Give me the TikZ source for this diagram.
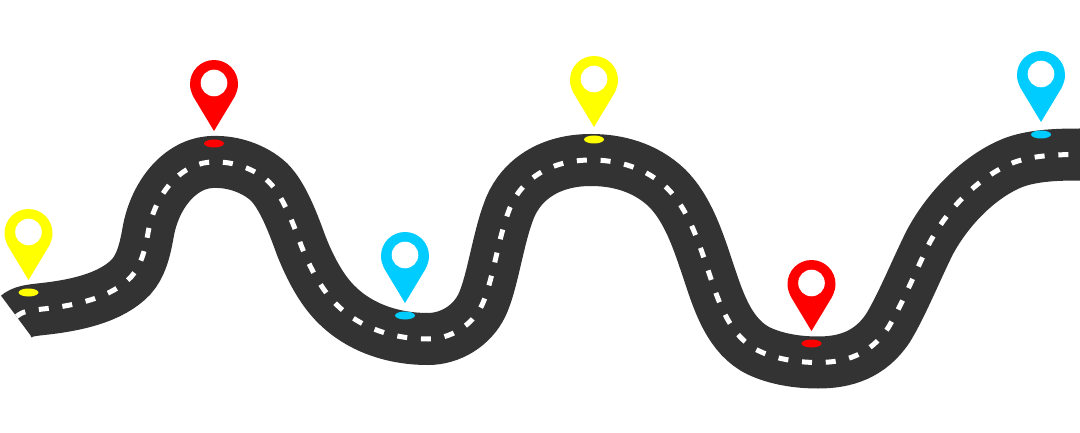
\documentclass[tikz,border=0pt]{standalone}
\usepackage{xcolor}
\usepackage{tikz}
\definecolor{roadgrey}{HTML}{333333}
\definecolor{pinblue}{HTML}{00CCFF}
\definecolor{pinred}{HTML}{FF0000}
\definecolor{pinyellow}{HTML}{FFFF00}
\tikzset{
  road/.style={draw=roadgrey,line width=52pt},
  roadline/.style={draw=white,line width=5pt,dash pattern=on 10pt off 13.77pt},
  mappin/.pic={
    \fill[pic actions] (0,0) -- (-20.5,-34) .. controls (-23,-39) and (-24,-43) .. (-24,-47)
      arc[start angle=180,end angle=360,radius=24]
      .. controls (24,-43) and (23,-39) .. (20.5,-34) -- cycle;
    \fill[white] (0,-48) circle[radius=13.3];
  }
}
\begin{document}
\begin{tikzpicture}[x=1pt,y=-1pt]
  \useasboundingbox (0,0) rectangle (1080,433);

  % road with its centre line
  \draw[road,postaction={roadline}] (16.5,316.5)
      .. controls (23,311) and (30,310.5) .. (43,309)
      .. controls (75,305.5) and (111,298) .. (131,277)
      .. controls (141,266) and (145,250) .. (148,233)
      .. controls (155,192) and (183,161) .. (215,162)
      .. controls (232,161.5) and (254,168) .. (269,182)
      .. controls (282,195) and (292,220) .. (301,245)
      .. controls (310,268) and (322,291) .. (338,306)
      .. controls (362,329) and (395,339) .. (428,339)
      .. controls (450,339) and (472,326) .. (482,305)
      .. controls (492,284) and (498,240) .. (508,213)
      .. controls (518,183) and (546,160) .. (591,160)
      .. controls (617,160) and (645,167) .. (667,188)
      .. controls (688,209) and (698,240) .. (709,273)
      .. controls (719,303) and (730,337) .. (759,351)
      .. controls (776,359) and (797,362.5) .. (818,362.5)
      .. controls (845,362.5) and (870,355) .. (888,328)
      .. controls (902,305) and (916,270) .. (930,242)
      .. controls (950,205) and (983,174) .. (1015,162)
      .. controls (1035,155) and (1060,154.5) .. (1080,154.5);

  % pins with their spots
  \foreach \px/\py/\pincol in {28.5/280/pinyellow,214/131/pinred,405/303/pinblue,594/127/pinyellow,811.5/331/pinred,1041/122/pinblue}{
    \fill[\pincol] (\px,\py+12.5) ellipse[x radius=10,y radius=4];
    \pic[fill=\pincol] at (\px,\py) {mappin};
  }
\end{tikzpicture}
\end{document}
